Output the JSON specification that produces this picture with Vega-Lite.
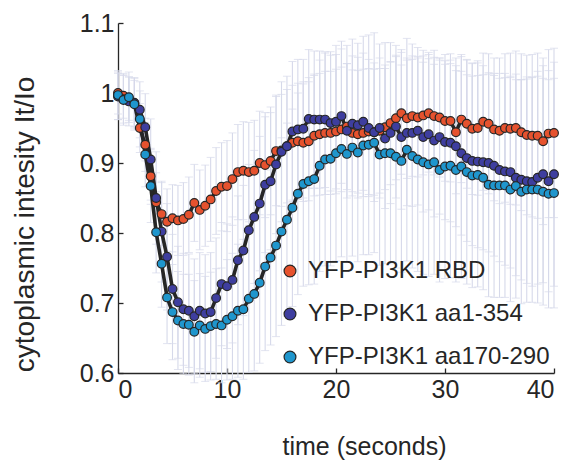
{
"$schema": "https://vega.github.io/schema/vega-lite/v6.json",
"width": 436, "height": 350,
"autosize": {"type": "none"},
"padding": {"left": 118, "top": 23, "right": 20, "bottom": 87},
"background": "white",
"config": {
  "font": "Liberation Sans",
  "view": {"stroke": null},
  "axis": {"grid": false, "domainColor": "#262626", "domainWidth": 1.3, "tickColor": "#262626", "tickWidth": 1.3, "tickSize": -5,
    "labelFont": "Liberation Sans", "labelFontSize": 25, "labelColor": "#262626", "labelPadding": 9,
    "titleFont": "Liberation Sans", "titleFontSize": 25, "titleColor": "#262626", "titleFontWeight": "normal"}
},
"data": {"values": [
{"series":"YFP-PI3K1 RBD","t":0,"ratio":1.000,"sem":0.030},
{"series":"YFP-PI3K1 RBD","t":0.5,"ratio":0.996,"sem":0.032},
{"series":"YFP-PI3K1 RBD","t":1,"ratio":0.992,"sem":0.031},
{"series":"YFP-PI3K1 RBD","t":1.5,"ratio":0.985,"sem":0.033},
{"series":"YFP-PI3K1 RBD","t":2,"ratio":0.950,"sem":0.035},
{"series":"YFP-PI3K1 RBD","t":2.5,"ratio":0.926,"sem":0.038},
{"series":"YFP-PI3K1 RBD","t":3,"ratio":0.881,"sem":0.040},
{"series":"YFP-PI3K1 RBD","t":3.5,"ratio":0.844,"sem":0.042},
{"series":"YFP-PI3K1 RBD","t":4,"ratio":0.827,"sem":0.045},
{"series":"YFP-PI3K1 RBD","t":4.5,"ratio":0.816,"sem":0.047},
{"series":"YFP-PI3K1 RBD","t":5,"ratio":0.821,"sem":0.048},
{"series":"YFP-PI3K1 RBD","t":5.5,"ratio":0.818,"sem":0.050},
{"series":"YFP-PI3K1 RBD","t":6,"ratio":0.820,"sem":0.052},
{"series":"YFP-PI3K1 RBD","t":6.5,"ratio":0.826,"sem":0.054},
{"series":"YFP-PI3K1 RBD","t":7,"ratio":0.843,"sem":0.055},
{"series":"YFP-PI3K1 RBD","t":7.5,"ratio":0.833,"sem":0.057},
{"series":"YFP-PI3K1 RBD","t":8,"ratio":0.839,"sem":0.058},
{"series":"YFP-PI3K1 RBD","t":8.5,"ratio":0.848,"sem":0.060},
{"series":"YFP-PI3K1 RBD","t":9,"ratio":0.860,"sem":0.062},
{"series":"YFP-PI3K1 RBD","t":9.5,"ratio":0.866,"sem":0.063},
{"series":"YFP-PI3K1 RBD","t":10,"ratio":0.867,"sem":0.065},
{"series":"YFP-PI3K1 RBD","t":10.5,"ratio":0.877,"sem":0.066},
{"series":"YFP-PI3K1 RBD","t":11,"ratio":0.887,"sem":0.068},
{"series":"YFP-PI3K1 RBD","t":11.5,"ratio":0.889,"sem":0.070},
{"series":"YFP-PI3K1 RBD","t":12,"ratio":0.887,"sem":0.071},
{"series":"YFP-PI3K1 RBD","t":12.5,"ratio":0.889,"sem":0.072},
{"series":"YFP-PI3K1 RBD","t":13,"ratio":0.900,"sem":0.074},
{"series":"YFP-PI3K1 RBD","t":13.5,"ratio":0.897,"sem":0.075},
{"series":"YFP-PI3K1 RBD","t":14,"ratio":0.903,"sem":0.077},
{"series":"YFP-PI3K1 RBD","t":14.5,"ratio":0.917,"sem":0.078},
{"series":"YFP-PI3K1 RBD","t":15,"ratio":0.918,"sem":0.080},
{"series":"YFP-PI3K1 RBD","t":15.5,"ratio":0.924,"sem":0.081},
{"series":"YFP-PI3K1 RBD","t":16,"ratio":0.929,"sem":0.082},
{"series":"YFP-PI3K1 RBD","t":16.5,"ratio":0.931,"sem":0.083},
{"series":"YFP-PI3K1 RBD","t":17,"ratio":0.929,"sem":0.084},
{"series":"YFP-PI3K1 RBD","t":17.5,"ratio":0.931,"sem":0.085},
{"series":"YFP-PI3K1 RBD","t":18,"ratio":0.939,"sem":0.086},
{"series":"YFP-PI3K1 RBD","t":18.5,"ratio":0.941,"sem":0.087},
{"series":"YFP-PI3K1 RBD","t":19,"ratio":0.943,"sem":0.088},
{"series":"YFP-PI3K1 RBD","t":19.5,"ratio":0.943,"sem":0.088},
{"series":"YFP-PI3K1 RBD","t":20,"ratio":0.945,"sem":0.089},
{"series":"YFP-PI3K1 RBD","t":20.5,"ratio":0.948,"sem":0.089},
{"series":"YFP-PI3K1 RBD","t":21,"ratio":0.952,"sem":0.090},
{"series":"YFP-PI3K1 RBD","t":21.5,"ratio":0.943,"sem":0.090},
{"series":"YFP-PI3K1 RBD","t":22,"ratio":0.941,"sem":0.091},
{"series":"YFP-PI3K1 RBD","t":22.5,"ratio":0.943,"sem":0.091},
{"series":"YFP-PI3K1 RBD","t":23,"ratio":0.945,"sem":0.090},
{"series":"YFP-PI3K1 RBD","t":23.5,"ratio":0.944,"sem":0.090},
{"series":"YFP-PI3K1 RBD","t":24,"ratio":0.946,"sem":0.089},
{"series":"YFP-PI3K1 RBD","t":24.5,"ratio":0.951,"sem":0.089},
{"series":"YFP-PI3K1 RBD","t":25,"ratio":0.957,"sem":0.088},
{"series":"YFP-PI3K1 RBD","t":25.5,"ratio":0.964,"sem":0.088},
{"series":"YFP-PI3K1 RBD","t":26,"ratio":0.971,"sem":0.087},
{"series":"YFP-PI3K1 RBD","t":26.5,"ratio":0.964,"sem":0.086},
{"series":"YFP-PI3K1 RBD","t":27,"ratio":0.967,"sem":0.086},
{"series":"YFP-PI3K1 RBD","t":27.5,"ratio":0.965,"sem":0.085},
{"series":"YFP-PI3K1 RBD","t":28,"ratio":0.968,"sem":0.085},
{"series":"YFP-PI3K1 RBD","t":28.5,"ratio":0.971,"sem":0.084},
{"series":"YFP-PI3K1 RBD","t":29,"ratio":0.967,"sem":0.084},
{"series":"YFP-PI3K1 RBD","t":29.5,"ratio":0.965,"sem":0.085},
{"series":"YFP-PI3K1 RBD","t":30,"ratio":0.960,"sem":0.086},
{"series":"YFP-PI3K1 RBD","t":30.5,"ratio":0.960,"sem":0.087},
{"series":"YFP-PI3K1 RBD","t":31,"ratio":0.944,"sem":0.088},
{"series":"YFP-PI3K1 RBD","t":31.5,"ratio":0.962,"sem":0.090},
{"series":"YFP-PI3K1 RBD","t":32,"ratio":0.956,"sem":0.092},
{"series":"YFP-PI3K1 RBD","t":32.5,"ratio":0.949,"sem":0.094},
{"series":"YFP-PI3K1 RBD","t":33,"ratio":0.950,"sem":0.096},
{"series":"YFP-PI3K1 RBD","t":33.5,"ratio":0.959,"sem":0.098},
{"series":"YFP-PI3K1 RBD","t":34,"ratio":0.956,"sem":0.100},
{"series":"YFP-PI3K1 RBD","t":34.5,"ratio":0.948,"sem":0.102},
{"series":"YFP-PI3K1 RBD","t":35,"ratio":0.946,"sem":0.104},
{"series":"YFP-PI3K1 RBD","t":35.5,"ratio":0.950,"sem":0.106},
{"series":"YFP-PI3K1 RBD","t":36,"ratio":0.949,"sem":0.108},
{"series":"YFP-PI3K1 RBD","t":36.5,"ratio":0.950,"sem":0.110},
{"series":"YFP-PI3K1 RBD","t":37,"ratio":0.944,"sem":0.112},
{"series":"YFP-PI3K1 RBD","t":37.5,"ratio":0.940,"sem":0.114},
{"series":"YFP-PI3K1 RBD","t":38,"ratio":0.939,"sem":0.116},
{"series":"YFP-PI3K1 RBD","t":38.5,"ratio":0.939,"sem":0.118},
{"series":"YFP-PI3K1 RBD","t":39,"ratio":0.931,"sem":0.119},
{"series":"YFP-PI3K1 RBD","t":39.5,"ratio":0.942,"sem":0.120},
{"series":"YFP-PI3K1 RBD","t":40,"ratio":0.943,"sem":0.121},
{"series":"YFP-PI3K1 aa1-354","t":0,"ratio":0.995,"sem":0.033},
{"series":"YFP-PI3K1 aa1-354","t":0.5,"ratio":0.991,"sem":0.034},
{"series":"YFP-PI3K1 aa1-354","t":1,"ratio":0.988,"sem":0.035},
{"series":"YFP-PI3K1 aa1-354","t":1.5,"ratio":0.986,"sem":0.036},
{"series":"YFP-PI3K1 aa1-354","t":2,"ratio":0.976,"sem":0.040},
{"series":"YFP-PI3K1 aa1-354","t":2.5,"ratio":0.951,"sem":0.048},
{"series":"YFP-PI3K1 aa1-354","t":3,"ratio":0.905,"sem":0.058},
{"series":"YFP-PI3K1 aa1-354","t":3.5,"ratio":0.850,"sem":0.066},
{"series":"YFP-PI3K1 aa1-354","t":4,"ratio":0.802,"sem":0.072},
{"series":"YFP-PI3K1 aa1-354","t":4.5,"ratio":0.766,"sem":0.076},
{"series":"YFP-PI3K1 aa1-354","t":5,"ratio":0.720,"sem":0.078},
{"series":"YFP-PI3K1 aa1-354","t":5.5,"ratio":0.701,"sem":0.080},
{"series":"YFP-PI3K1 aa1-354","t":6,"ratio":0.691,"sem":0.080},
{"series":"YFP-PI3K1 aa1-354","t":6.5,"ratio":0.689,"sem":0.081},
{"series":"YFP-PI3K1 aa1-354","t":7,"ratio":0.681,"sem":0.082},
{"series":"YFP-PI3K1 aa1-354","t":7.5,"ratio":0.689,"sem":0.083},
{"series":"YFP-PI3K1 aa1-354","t":8,"ratio":0.685,"sem":0.084},
{"series":"YFP-PI3K1 aa1-354","t":8.5,"ratio":0.687,"sem":0.085},
{"series":"YFP-PI3K1 aa1-354","t":9,"ratio":0.707,"sem":0.086},
{"series":"YFP-PI3K1 aa1-354","t":9.5,"ratio":0.727,"sem":0.088},
{"series":"YFP-PI3K1 aa1-354","t":10,"ratio":0.724,"sem":0.089},
{"series":"YFP-PI3K1 aa1-354","t":10.5,"ratio":0.733,"sem":0.090},
{"series":"YFP-PI3K1 aa1-354","t":11,"ratio":0.761,"sem":0.092},
{"series":"YFP-PI3K1 aa1-354","t":11.5,"ratio":0.775,"sem":0.093},
{"series":"YFP-PI3K1 aa1-354","t":12,"ratio":0.804,"sem":0.094},
{"series":"YFP-PI3K1 aa1-354","t":12.5,"ratio":0.823,"sem":0.095},
{"series":"YFP-PI3K1 aa1-354","t":13,"ratio":0.842,"sem":0.096},
{"series":"YFP-PI3K1 aa1-354","t":13.5,"ratio":0.869,"sem":0.097},
{"series":"YFP-PI3K1 aa1-354","t":14,"ratio":0.874,"sem":0.098},
{"series":"YFP-PI3K1 aa1-354","t":14.5,"ratio":0.898,"sem":0.099},
{"series":"YFP-PI3K1 aa1-354","t":15,"ratio":0.916,"sem":0.100},
{"series":"YFP-PI3K1 aa1-354","t":15.5,"ratio":0.924,"sem":0.100},
{"series":"YFP-PI3K1 aa1-354","t":16,"ratio":0.945,"sem":0.100},
{"series":"YFP-PI3K1 aa1-354","t":16.5,"ratio":0.948,"sem":0.100},
{"series":"YFP-PI3K1 aa1-354","t":17,"ratio":0.949,"sem":0.099},
{"series":"YFP-PI3K1 aa1-354","t":17.5,"ratio":0.963,"sem":0.099},
{"series":"YFP-PI3K1 aa1-354","t":18,"ratio":0.962,"sem":0.098},
{"series":"YFP-PI3K1 aa1-354","t":18.5,"ratio":0.962,"sem":0.098},
{"series":"YFP-PI3K1 aa1-354","t":19,"ratio":0.962,"sem":0.097},
{"series":"YFP-PI3K1 aa1-354","t":19.5,"ratio":0.957,"sem":0.097},
{"series":"YFP-PI3K1 aa1-354","t":20,"ratio":0.959,"sem":0.096},
{"series":"YFP-PI3K1 aa1-354","t":20.5,"ratio":0.967,"sem":0.096},
{"series":"YFP-PI3K1 aa1-354","t":21,"ratio":0.946,"sem":0.096},
{"series":"YFP-PI3K1 aa1-354","t":21.5,"ratio":0.956,"sem":0.097},
{"series":"YFP-PI3K1 aa1-354","t":22,"ratio":0.954,"sem":0.097},
{"series":"YFP-PI3K1 aa1-354","t":22.5,"ratio":0.959,"sem":0.098},
{"series":"YFP-PI3K1 aa1-354","t":23,"ratio":0.950,"sem":0.098},
{"series":"YFP-PI3K1 aa1-354","t":23.5,"ratio":0.944,"sem":0.099},
{"series":"YFP-PI3K1 aa1-354","t":24,"ratio":0.950,"sem":0.100},
{"series":"YFP-PI3K1 aa1-354","t":24.5,"ratio":0.935,"sem":0.100},
{"series":"YFP-PI3K1 aa1-354","t":25,"ratio":0.943,"sem":0.101},
{"series":"YFP-PI3K1 aa1-354","t":25.5,"ratio":0.952,"sem":0.102},
{"series":"YFP-PI3K1 aa1-354","t":26,"ratio":0.937,"sem":0.103},
{"series":"YFP-PI3K1 aa1-354","t":26.5,"ratio":0.943,"sem":0.104},
{"series":"YFP-PI3K1 aa1-354","t":27,"ratio":0.943,"sem":0.105},
{"series":"YFP-PI3K1 aa1-354","t":27.5,"ratio":0.946,"sem":0.106},
{"series":"YFP-PI3K1 aa1-354","t":28,"ratio":0.937,"sem":0.107},
{"series":"YFP-PI3K1 aa1-354","t":28.5,"ratio":0.941,"sem":0.108},
{"series":"YFP-PI3K1 aa1-354","t":29,"ratio":0.932,"sem":0.109},
{"series":"YFP-PI3K1 aa1-354","t":29.5,"ratio":0.937,"sem":0.110},
{"series":"YFP-PI3K1 aa1-354","t":30,"ratio":0.930,"sem":0.111},
{"series":"YFP-PI3K1 aa1-354","t":30.5,"ratio":0.929,"sem":0.113},
{"series":"YFP-PI3K1 aa1-354","t":31,"ratio":0.924,"sem":0.115},
{"series":"YFP-PI3K1 aa1-354","t":31.5,"ratio":0.914,"sem":0.117},
{"series":"YFP-PI3K1 aa1-354","t":32,"ratio":0.907,"sem":0.119},
{"series":"YFP-PI3K1 aa1-354","t":32.5,"ratio":0.903,"sem":0.121},
{"series":"YFP-PI3K1 aa1-354","t":33,"ratio":0.902,"sem":0.123},
{"series":"YFP-PI3K1 aa1-354","t":33.5,"ratio":0.901,"sem":0.125},
{"series":"YFP-PI3K1 aa1-354","t":34,"ratio":0.900,"sem":0.127},
{"series":"YFP-PI3K1 aa1-354","t":34.5,"ratio":0.896,"sem":0.129},
{"series":"YFP-PI3K1 aa1-354","t":35,"ratio":0.890,"sem":0.131},
{"series":"YFP-PI3K1 aa1-354","t":35.5,"ratio":0.888,"sem":0.134},
{"series":"YFP-PI3K1 aa1-354","t":36,"ratio":0.887,"sem":0.137},
{"series":"YFP-PI3K1 aa1-354","t":36.5,"ratio":0.879,"sem":0.140},
{"series":"YFP-PI3K1 aa1-354","t":37,"ratio":0.876,"sem":0.143},
{"series":"YFP-PI3K1 aa1-354","t":37.5,"ratio":0.874,"sem":0.146},
{"series":"YFP-PI3K1 aa1-354","t":38,"ratio":0.873,"sem":0.149},
{"series":"YFP-PI3K1 aa1-354","t":38.5,"ratio":0.879,"sem":0.152},
{"series":"YFP-PI3K1 aa1-354","t":39,"ratio":0.884,"sem":0.155},
{"series":"YFP-PI3K1 aa1-354","t":39.5,"ratio":0.874,"sem":0.158},
{"series":"YFP-PI3K1 aa1-354","t":40,"ratio":0.884,"sem":0.160},
{"series":"YFP-PI3K1 aa170-290","t":0,"ratio":0.997,"sem":0.035},
{"series":"YFP-PI3K1 aa170-290","t":0.5,"ratio":0.990,"sem":0.036},
{"series":"YFP-PI3K1 aa170-290","t":1,"ratio":0.994,"sem":0.036},
{"series":"YFP-PI3K1 aa170-290","t":1.5,"ratio":0.984,"sem":0.037},
{"series":"YFP-PI3K1 aa170-290","t":2,"ratio":0.963,"sem":0.040},
{"series":"YFP-PI3K1 aa170-290","t":2.5,"ratio":0.912,"sem":0.046},
{"series":"YFP-PI3K1 aa170-290","t":3,"ratio":0.867,"sem":0.052},
{"series":"YFP-PI3K1 aa170-290","t":3.5,"ratio":0.801,"sem":0.058},
{"series":"YFP-PI3K1 aa170-290","t":4,"ratio":0.756,"sem":0.062},
{"series":"YFP-PI3K1 aa170-290","t":4.5,"ratio":0.708,"sem":0.066},
{"series":"YFP-PI3K1 aa170-290","t":5,"ratio":0.687,"sem":0.068},
{"series":"YFP-PI3K1 aa170-290","t":5.5,"ratio":0.675,"sem":0.070},
{"series":"YFP-PI3K1 aa170-290","t":6,"ratio":0.670,"sem":0.071},
{"series":"YFP-PI3K1 aa170-290","t":6.5,"ratio":0.669,"sem":0.072},
{"series":"YFP-PI3K1 aa170-290","t":7,"ratio":0.659,"sem":0.073},
{"series":"YFP-PI3K1 aa170-290","t":7.5,"ratio":0.668,"sem":0.074},
{"series":"YFP-PI3K1 aa170-290","t":8,"ratio":0.663,"sem":0.075},
{"series":"YFP-PI3K1 aa170-290","t":8.5,"ratio":0.667,"sem":0.077},
{"series":"YFP-PI3K1 aa170-290","t":9,"ratio":0.670,"sem":0.079},
{"series":"YFP-PI3K1 aa170-290","t":9.5,"ratio":0.668,"sem":0.082},
{"series":"YFP-PI3K1 aa170-290","t":10,"ratio":0.676,"sem":0.086},
{"series":"YFP-PI3K1 aa170-290","t":10.5,"ratio":0.681,"sem":0.090},
{"series":"YFP-PI3K1 aa170-290","t":11,"ratio":0.689,"sem":0.095},
{"series":"YFP-PI3K1 aa170-290","t":11.5,"ratio":0.691,"sem":0.100},
{"series":"YFP-PI3K1 aa170-290","t":12,"ratio":0.706,"sem":0.105},
{"series":"YFP-PI3K1 aa170-290","t":12.5,"ratio":0.713,"sem":0.110},
{"series":"YFP-PI3K1 aa170-290","t":13,"ratio":0.729,"sem":0.115},
{"series":"YFP-PI3K1 aa170-290","t":13.5,"ratio":0.752,"sem":0.120},
{"series":"YFP-PI3K1 aa170-290","t":14,"ratio":0.765,"sem":0.125},
{"series":"YFP-PI3K1 aa170-290","t":14.5,"ratio":0.782,"sem":0.130},
{"series":"YFP-PI3K1 aa170-290","t":15,"ratio":0.802,"sem":0.134},
{"series":"YFP-PI3K1 aa170-290","t":15.5,"ratio":0.819,"sem":0.138},
{"series":"YFP-PI3K1 aa170-290","t":16,"ratio":0.836,"sem":0.141},
{"series":"YFP-PI3K1 aa170-290","t":16.5,"ratio":0.856,"sem":0.144},
{"series":"YFP-PI3K1 aa170-290","t":17,"ratio":0.870,"sem":0.146},
{"series":"YFP-PI3K1 aa170-290","t":17.5,"ratio":0.874,"sem":0.148},
{"series":"YFP-PI3K1 aa170-290","t":18,"ratio":0.877,"sem":0.150},
{"series":"YFP-PI3K1 aa170-290","t":18.5,"ratio":0.896,"sem":0.151},
{"series":"YFP-PI3K1 aa170-290","t":19,"ratio":0.905,"sem":0.152},
{"series":"YFP-PI3K1 aa170-290","t":19.5,"ratio":0.906,"sem":0.153},
{"series":"YFP-PI3K1 aa170-290","t":20,"ratio":0.914,"sem":0.154},
{"series":"YFP-PI3K1 aa170-290","t":20.5,"ratio":0.920,"sem":0.154},
{"series":"YFP-PI3K1 aa170-290","t":21,"ratio":0.913,"sem":0.155},
{"series":"YFP-PI3K1 aa170-290","t":21.5,"ratio":0.922,"sem":0.155},
{"series":"YFP-PI3K1 aa170-290","t":22,"ratio":0.915,"sem":0.156},
{"series":"YFP-PI3K1 aa170-290","t":22.5,"ratio":0.925,"sem":0.156},
{"series":"YFP-PI3K1 aa170-290","t":23,"ratio":0.926,"sem":0.157},
{"series":"YFP-PI3K1 aa170-290","t":23.5,"ratio":0.929,"sem":0.157},
{"series":"YFP-PI3K1 aa170-290","t":24,"ratio":0.912,"sem":0.158},
{"series":"YFP-PI3K1 aa170-290","t":24.5,"ratio":0.914,"sem":0.158},
{"series":"YFP-PI3K1 aa170-290","t":25,"ratio":0.914,"sem":0.158},
{"series":"YFP-PI3K1 aa170-290","t":25.5,"ratio":0.909,"sem":0.159},
{"series":"YFP-PI3K1 aa170-290","t":26,"ratio":0.903,"sem":0.159},
{"series":"YFP-PI3K1 aa170-290","t":26.5,"ratio":0.919,"sem":0.159},
{"series":"YFP-PI3K1 aa170-290","t":27,"ratio":0.910,"sem":0.160},
{"series":"YFP-PI3K1 aa170-290","t":27.5,"ratio":0.905,"sem":0.160},
{"series":"YFP-PI3K1 aa170-290","t":28,"ratio":0.901,"sem":0.160},
{"series":"YFP-PI3K1 aa170-290","t":28.5,"ratio":0.898,"sem":0.160},
{"series":"YFP-PI3K1 aa170-290","t":29,"ratio":0.901,"sem":0.160},
{"series":"YFP-PI3K1 aa170-290","t":29.5,"ratio":0.890,"sem":0.160},
{"series":"YFP-PI3K1 aa170-290","t":30,"ratio":0.895,"sem":0.160},
{"series":"YFP-PI3K1 aa170-290","t":30.5,"ratio":0.896,"sem":0.160},
{"series":"YFP-PI3K1 aa170-290","t":31,"ratio":0.890,"sem":0.160},
{"series":"YFP-PI3K1 aa170-290","t":31.5,"ratio":0.895,"sem":0.160},
{"series":"YFP-PI3K1 aa170-290","t":32,"ratio":0.887,"sem":0.160},
{"series":"YFP-PI3K1 aa170-290","t":32.5,"ratio":0.882,"sem":0.160},
{"series":"YFP-PI3K1 aa170-290","t":33,"ratio":0.883,"sem":0.160},
{"series":"YFP-PI3K1 aa170-290","t":33.5,"ratio":0.879,"sem":0.160},
{"series":"YFP-PI3K1 aa170-290","t":34,"ratio":0.869,"sem":0.160},
{"series":"YFP-PI3K1 aa170-290","t":34.5,"ratio":0.868,"sem":0.160},
{"series":"YFP-PI3K1 aa170-290","t":35,"ratio":0.868,"sem":0.160},
{"series":"YFP-PI3K1 aa170-290","t":35.5,"ratio":0.868,"sem":0.160},
{"series":"YFP-PI3K1 aa170-290","t":36,"ratio":0.862,"sem":0.160},
{"series":"YFP-PI3K1 aa170-290","t":36.5,"ratio":0.867,"sem":0.160},
{"series":"YFP-PI3K1 aa170-290","t":37,"ratio":0.859,"sem":0.160},
{"series":"YFP-PI3K1 aa170-290","t":37.5,"ratio":0.862,"sem":0.161},
{"series":"YFP-PI3K1 aa170-290","t":38,"ratio":0.862,"sem":0.161},
{"series":"YFP-PI3K1 aa170-290","t":38.5,"ratio":0.862,"sem":0.162},
{"series":"YFP-PI3K1 aa170-290","t":39,"ratio":0.859,"sem":0.162},
{"series":"YFP-PI3K1 aa170-290","t":39.5,"ratio":0.856,"sem":0.163},
{"series":"YFP-PI3K1 aa170-290","t":40,"ratio":0.857,"sem":0.164}
]},
"encoding": {
  "x": {"field": "t", "type": "quantitative", "scale": {"domain": [0, 40], "nice": false},
    "axis": {"values": [0, 10, 20, 30, 40], "title": "time (seconds)", "titleX": 246, "titleY": 73, "titleBaseline": "middle", "titleAlign": "center"}},
  "y": {"field": "ratio", "type": "quantitative", "scale": {"domain": [0.6, 1.1], "nice": false, "zero": false},
    "axis": {"values": [0.6, 0.7, 0.8, 0.9, 1, 1.1], "format": "~g", "title": "cytoplasmic intesity It/Io", "titleX": -93, "titleY": 201, "titleAngle": -90, "titleBaseline": "middle", "titleAlign": "center", "titleFontSize": 28}}
},
"layer": [
  {"mark": {"type": "errorbar", "ticks": {"size": 8, "color": "#d6d9ea"}, "rule": {"color": "#d6d9ea", "strokeWidth": 1.1}},
   "encoding": {"yError": {"field": "sem"}, "detail": {"field": "series", "type": "nominal"}}},
  {"mark": {"type": "line", "color": "#262626", "strokeWidth": 3.6},
   "encoding": {"detail": {"field": "series", "type": "nominal"}}},
  {"mark": {"type": "point", "shape": "circle", "filled": true, "size": 76, "stroke": "#262626", "strokeWidth": 1.2, "opacity": 1},
   "encoding": {"color": {"field": "series", "type": "nominal",
     "scale": {"domain": ["YFP-PI3K1 RBD", "YFP-PI3K1 aa1-354", "YFP-PI3K1 aa170-290"], "range": ["#e6522e", "#3e3e9f", "#1f96cd"]},
     "legend": {"title": null, "orient": "none", "legendX": 160, "legendY": 236, "symbolType": "circle", "symbolSize": 140,
       "symbolStrokeColor": "#262626", "symbolStrokeWidth": 1.2, "symbolOpacity": 1, "labelFont": "Liberation Sans", "labelFontSize": 24,
       "labelColor": "#262626", "rowPadding": 19, "labelOffset": 6, "labelLimit": 400}}}}
]
}
